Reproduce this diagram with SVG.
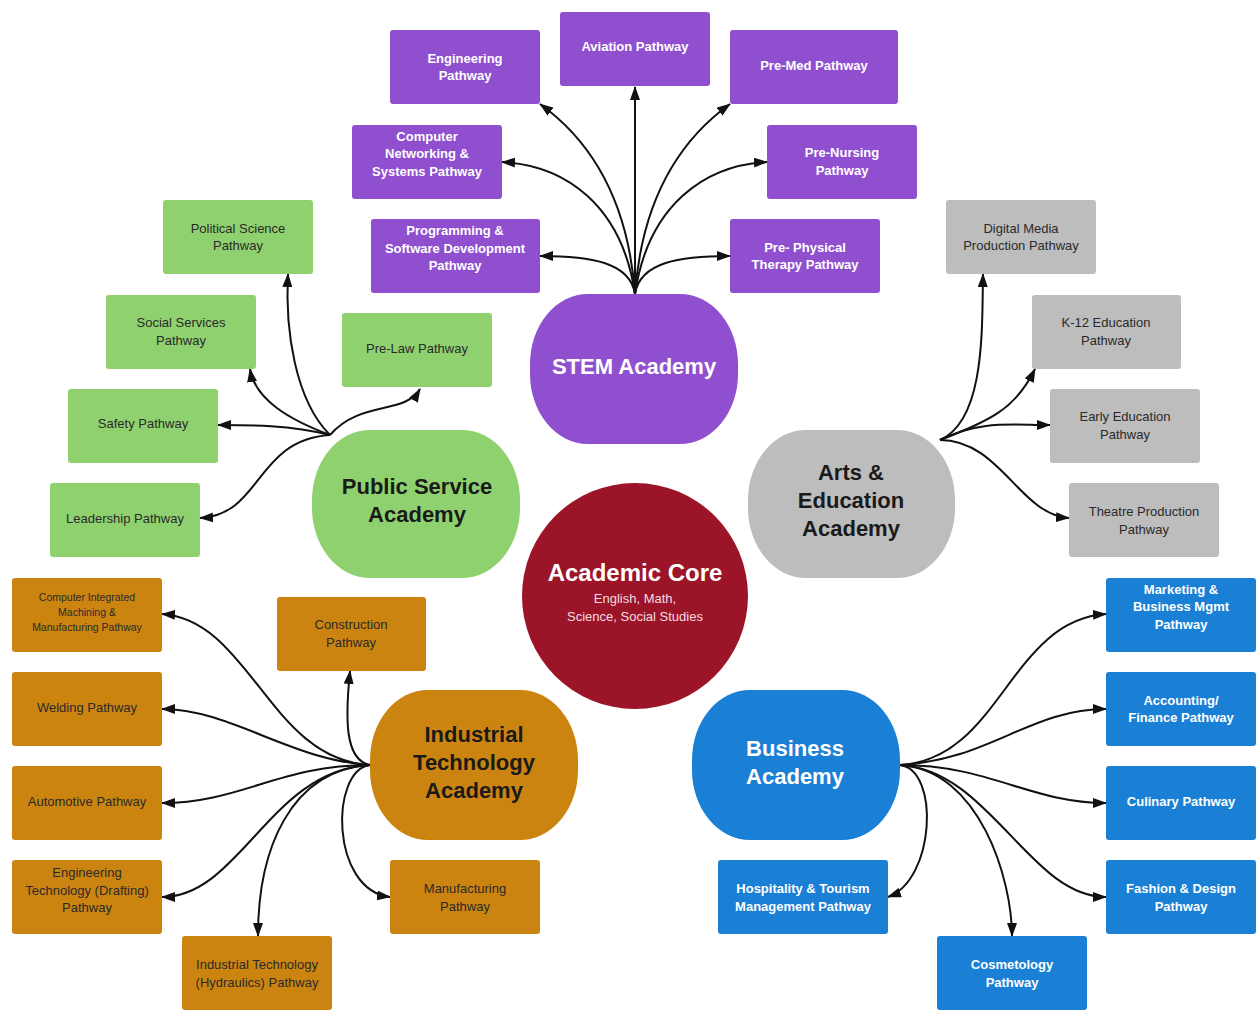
<svg xmlns="http://www.w3.org/2000/svg" width="1257" height="1011" viewBox="0 0 1257 1011">
  <style>
    .box { rx: 3; ry: 3; }
    .stem { fill: #8f4fcf; }
    .ps { fill: #8fd16f; }
    .arts { fill: #bdbdbd; }
    .ind { fill: #cc8411; }
    .bus { fill: #1a80d5; }
    text { font-family: "Liberation Sans", Arial, sans-serif; text-anchor: middle; }
    .lw { fill: #ffffff; font-size: 13px; font-weight: bold; }
    .ld { fill: #2a2a2a; font-size: 13px; }
    .ls { fill: #2a2a2a; font-size: 10.5px; }
    .hw { fill: #ffffff; font-size: 22px; font-weight: bold; }
    .hd { fill: #1a1a1a; font-size: 22px; font-weight: bold; }
    .conn path { fill: none; stroke: #111111; stroke-width: 2; marker-end: url(#arrow); }
  </style>
  <defs>
    <marker id="arrow" markerUnits="userSpaceOnUse" markerWidth="14" markerHeight="10" refX="13" refY="5" orient="auto">
      <path d="M0,0 L14,5 L0,10 Z" fill="#111111"/>
    </marker>
  </defs>
  <rect width="1257" height="1011" fill="#ffffff"/>

  <!-- Connectors -->
  <g id="connectors" class="conn">
    <!-- STEM -->
    <path d="M635,294 C628,200 590,140 540,104"/>
    <path d="M635,294 L635,87"/>
    <path d="M635,294 C642,200 680,140 730,104"/>
    <path d="M635,294 C622,205 565,165 502,162"/>
    <path d="M635,294 C648,205 705,165 767,162"/>
    <path d="M635,294 C630,262 590,256 540,256"/>
    <path d="M635,294 C640,262 680,256 730,256"/>
    <!-- Public Service -->
    <path d="M330,435 C295,400 285,330 288,274"/>
    <path d="M330,435 C290,420 255,400 250,369"/>
    <path d="M330,435 C290,425 250,425 218,425"/>
    <path d="M330,435 C255,440 262,515 200,518"/>
    <path d="M330,435 C360,400 405,415 420,389"/>
    <!-- Arts & Education -->
    <path d="M940,440 C985,420 982,330 983,274"/>
    <path d="M940,440 C990,420 1015,410 1035,369"/>
    <path d="M940,440 C980,420 1010,425 1050,425"/>
    <path d="M940,440 C1000,440 1020,515 1069,518"/>
    <!-- Industrial Technology -->
    <path d="M370,765 C270,760 250,620 162,614"/>
    <path d="M370,765 C290,760 230,709 162,709"/>
    <path d="M370,765 C280,765 240,803 162,803"/>
    <path d="M370,765 C270,770 240,897 162,897"/>
    <path d="M370,765 C290,770 258,850 258,936"/>
    <path d="M370,765 C330,770 330,890 390,897"/>
    <path d="M370,765 C345,760 345,720 350,671"/>
    <!-- Business -->
    <path d="M900,765 C1000,760 1010,620 1106,614"/>
    <path d="M900,765 C990,760 1030,709 1106,709"/>
    <path d="M900,765 C990,765 1030,803 1106,803"/>
    <path d="M900,765 C990,770 1030,897 1106,897"/>
    <path d="M900,765 C940,770 935,880 888,897"/>
    <path d="M900,765 C980,770 1012,880 1012,936"/>
  </g>

  <!-- Academic Core -->
  <g id="academic-core">
    <circle cx="635" cy="596" r="113" fill="#9c1428"/>
    <text x="635" y="581" class="hw" style="font-size:24px">Academic Core</text>
    <text x="635" y="603" style="fill:#f3dde0;font-size:13px">English, Math,</text>
    <text x="635" y="621" style="fill:#f3dde0;font-size:13px">Science, Social Studies</text>
  </g>

  <!-- STEM Academy -->
  <g id="stem-academy">
    <rect x="530" y="294" width="208" height="150" rx="58" ry="70" class="stem"/>
    <text x="634" y="374" class="hw">STEM Academy</text>
  </g>
  <g id="engineering">
    <rect x="390" y="30" width="150" height="74" class="box stem"/>
    <text x="465" y="63" class="lw">Engineering</text>
    <text x="465" y="80" class="lw">Pathway</text>
  </g>
  <g id="aviation">
    <rect x="560" y="12" width="150" height="74" class="box stem"/>
    <text x="635" y="51" class="lw">Aviation Pathway</text>
  </g>
  <g id="pre-med">
    <rect x="730" y="30" width="168" height="74" class="box stem"/>
    <text x="814" y="70" class="lw">Pre-Med Pathway</text>
  </g>
  <g id="networking">
    <rect x="352" y="125" width="150" height="74" class="box stem"/>
    <text x="427" y="141" class="lw">Computer</text>
    <text x="427" y="158" class="lw">Networking &amp;</text>
    <text x="427" y="176" class="lw">Systems Pathway</text>
  </g>
  <g id="pre-nursing">
    <rect x="767" y="125" width="150" height="74" class="box stem"/>
    <text x="842" y="157" class="lw">Pre-Nursing</text>
    <text x="842" y="175" class="lw">Pathway</text>
  </g>
  <g id="programming">
    <rect x="371" y="219" width="169" height="74" class="box stem"/>
    <text x="455" y="235" class="lw">Programming &amp;</text>
    <text x="455" y="253" class="lw">Software Development</text>
    <text x="455" y="270" class="lw">Pathway</text>
  </g>
  <g id="pre-pt">
    <rect x="730" y="219" width="150" height="74" class="box stem"/>
    <text x="805" y="252" class="lw">Pre- Physical</text>
    <text x="805" y="269" class="lw">Therapy Pathway</text>
  </g>

  <!-- Public Service Academy -->
  <g id="public-service-academy">
    <rect x="312" y="430" width="208" height="148" rx="58" ry="70" class="ps"/>
    <text x="417" y="494" class="hd">Public Service</text>
    <text x="417" y="522" class="hd">Academy</text>
  </g>
  <g id="political-science">
    <rect x="163" y="200" width="150" height="74" class="box ps"/>
    <text x="238" y="233" class="ld">Political Science</text>
    <text x="238" y="250" class="ld">Pathway</text>
  </g>
  <g id="social-services">
    <rect x="106" y="295" width="150" height="74" class="box ps"/>
    <text x="181" y="327" class="ld">Social Services</text>
    <text x="181" y="345" class="ld">Pathway</text>
  </g>
  <g id="pre-law">
    <rect x="342" y="313" width="150" height="74" class="box ps"/>
    <text x="417" y="353" class="ld">Pre-Law Pathway</text>
  </g>
  <g id="safety">
    <rect x="68" y="389" width="150" height="74" class="box ps"/>
    <text x="143" y="428" class="ld">Safety Pathway</text>
  </g>
  <g id="leadership">
    <rect x="50" y="483" width="150" height="74" class="box ps"/>
    <text x="125" y="523" class="ld">Leadership Pathway</text>
  </g>

  <!-- Arts & Education Academy -->
  <g id="arts-academy">
    <rect x="748" y="430" width="207" height="148" rx="58" ry="70" class="arts"/>
    <text x="851" y="480" class="hd">Arts &amp;</text>
    <text x="851" y="508" class="hd">Education</text>
    <text x="851" y="536" class="hd">Academy</text>
  </g>
  <g id="digital-media">
    <rect x="946" y="200" width="150" height="74" class="box arts"/>
    <text x="1021" y="233" class="ld">Digital Media</text>
    <text x="1021" y="250" class="ld">Production Pathway</text>
  </g>
  <g id="k12">
    <rect x="1032" y="295" width="149" height="74" class="box arts"/>
    <text x="1106" y="327" class="ld">K-12 Education</text>
    <text x="1106" y="345" class="ld">Pathway</text>
  </g>
  <g id="early-education">
    <rect x="1050" y="389" width="150" height="74" class="box arts"/>
    <text x="1125" y="421" class="ld">Early Education</text>
    <text x="1125" y="439" class="ld">Pathway</text>
  </g>
  <g id="theatre">
    <rect x="1069" y="483" width="150" height="74" class="box arts"/>
    <text x="1144" y="516" class="ld">Theatre Production</text>
    <text x="1144" y="534" class="ld">Pathway</text>
  </g>

  <!-- Industrial Technology Academy -->
  <g id="industrial-academy">
    <rect x="370" y="690" width="208" height="150" rx="58" ry="70" class="ind"/>
    <text x="474" y="742" class="hd">Industrial</text>
    <text x="474" y="770" class="hd">Technology</text>
    <text x="474" y="798" class="hd">Academy</text>
  </g>
  <g id="cim">
    <rect x="12" y="578" width="150" height="74" class="box ind"/>
    <text x="87" y="601" class="ls">Computer Integrated</text>
    <text x="87" y="616" class="ls">Machining &amp;</text>
    <text x="87" y="631" class="ls">Manufacturing Pathway</text>
  </g>
  <g id="construction">
    <rect x="277" y="597" width="149" height="74" class="box ind"/>
    <text x="351" y="629" class="ld">Construction</text>
    <text x="351" y="647" class="ld">Pathway</text>
  </g>
  <g id="welding">
    <rect x="12" y="672" width="150" height="74" class="box ind"/>
    <text x="87" y="712" class="ld">Welding Pathway</text>
  </g>
  <g id="automotive">
    <rect x="12" y="766" width="150" height="74" class="box ind"/>
    <text x="87" y="806" class="ld">Automotive Pathway</text>
  </g>
  <g id="engineering-tech">
    <rect x="12" y="860" width="150" height="74" class="box ind"/>
    <text x="87" y="877" class="ld">Engineering</text>
    <text x="87" y="895" class="ld">Technology (Drafting)</text>
    <text x="87" y="912" class="ld">Pathway</text>
  </g>
  <g id="hydraulics">
    <rect x="182" y="936" width="150" height="74" class="box ind"/>
    <text x="257" y="969" class="ld">Industrial Technology</text>
    <text x="257" y="987" class="ld">(Hydraulics) Pathway</text>
  </g>
  <g id="manufacturing">
    <rect x="390" y="860" width="150" height="74" class="box ind"/>
    <text x="465" y="893" class="ld">Manufacturing</text>
    <text x="465" y="911" class="ld">Pathway</text>
  </g>

  <!-- Business Academy -->
  <g id="business-academy">
    <rect x="692" y="690" width="208" height="150" rx="58" ry="70" class="bus"/>
    <text x="795" y="756" class="hw">Business</text>
    <text x="795" y="784" class="hw">Academy</text>
  </g>
  <g id="marketing">
    <rect x="1106" y="578" width="150" height="74" class="box bus"/>
    <text x="1181" y="594" class="lw">Marketing &amp;</text>
    <text x="1181" y="611" class="lw">Business Mgmt</text>
    <text x="1181" y="629" class="lw">Pathway</text>
  </g>
  <g id="accounting">
    <rect x="1106" y="672" width="150" height="74" class="box bus"/>
    <text x="1181" y="705" class="lw">Accounting/</text>
    <text x="1181" y="722" class="lw">Finance Pathway</text>
  </g>
  <g id="culinary">
    <rect x="1106" y="766" width="150" height="74" class="box bus"/>
    <text x="1181" y="806" class="lw">Culinary Pathway</text>
  </g>
  <g id="fashion">
    <rect x="1106" y="860" width="150" height="74" class="box bus"/>
    <text x="1181" y="893" class="lw">Fashion &amp; Design</text>
    <text x="1181" y="911" class="lw">Pathway</text>
  </g>
  <g id="hospitality">
    <rect x="718" y="860" width="170" height="74" class="box bus"/>
    <text x="803" y="893" class="lw">Hospitality &amp; Tourism</text>
    <text x="803" y="911" class="lw">Management Pathway</text>
  </g>
  <g id="cosmetology">
    <rect x="937" y="936" width="150" height="74" class="box bus"/>
    <text x="1012" y="969" class="lw">Cosmetology</text>
    <text x="1012" y="987" class="lw">Pathway</text>
  </g>
</svg>
